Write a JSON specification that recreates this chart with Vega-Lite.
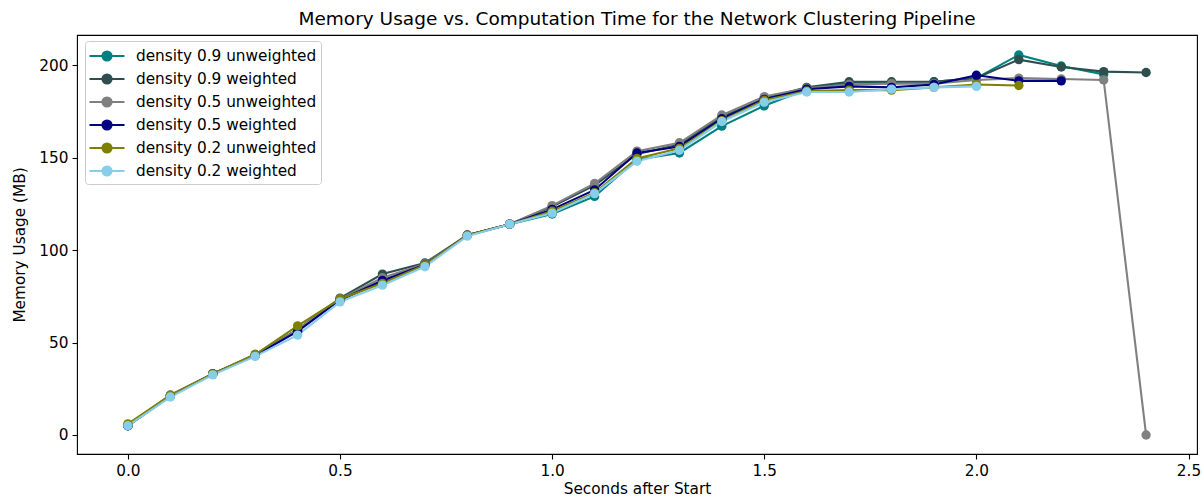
{
  "$schema": "https://vega.github.io/schema/vega-lite/v6.json",
  "width": 1120,
  "height": 419,
  "autosize": {"type": "none"},
  "padding": {"left": 77, "top": 35, "right": 7, "bottom": 47},
  "background": "white",
  "title": {
    "text": "Memory Usage vs. Computation Time for the Network Clustering Pipeline",
    "font": "DejaVu Sans",
    "fontSize": 18.5,
    "fontWeight": "normal",
    "color": "black",
    "anchor": "middle",
    "offset": 7
  },
  "config": {
    "view": {"stroke": "black", "strokeWidth": 1.1},
    "axis": {
      "grid": false,
      "domain": false,
      "ticks": true,
      "tickColor": "black",
      "tickSize": 5,
      "tickWidth": 1.1,
      "labelFont": "DejaVu Sans",
      "labelFontSize": 15.3,
      "labelColor": "black",
      "labelPadding": 4,
      "titleFont": "DejaVu Sans",
      "titleFontSize": 15.3,
      "titleFontWeight": "normal",
      "titleColor": "black"
    }
  },
  "data": {
    "values": [
      {"series": "density 0.9 unweighted", "t": 0.0, "mb": 5},
      {"series": "density 0.9 unweighted", "t": 0.1, "mb": 21},
      {"series": "density 0.9 unweighted", "t": 0.2, "mb": 33},
      {"series": "density 0.9 unweighted", "t": 0.3, "mb": 43},
      {"series": "density 0.9 unweighted", "t": 0.4, "mb": 57},
      {"series": "density 0.9 unweighted", "t": 0.5, "mb": 73},
      {"series": "density 0.9 unweighted", "t": 0.6, "mb": 83},
      {"series": "density 0.9 unweighted", "t": 0.7, "mb": 92},
      {"series": "density 0.9 unweighted", "t": 0.8, "mb": 108},
      {"series": "density 0.9 unweighted", "t": 0.9, "mb": 114},
      {"series": "density 0.9 unweighted", "t": 1.0, "mb": 119.5},
      {"series": "density 0.9 unweighted", "t": 1.1, "mb": 129},
      {"series": "density 0.9 unweighted", "t": 1.2, "mb": 149},
      {"series": "density 0.9 unweighted", "t": 1.3, "mb": 152.5},
      {"series": "density 0.9 unweighted", "t": 1.4, "mb": 167},
      {"series": "density 0.9 unweighted", "t": 1.5, "mb": 178},
      {"series": "density 0.9 unweighted", "t": 1.6, "mb": 187},
      {"series": "density 0.9 unweighted", "t": 1.7, "mb": 190.5},
      {"series": "density 0.9 unweighted", "t": 1.8, "mb": 190.5},
      {"series": "density 0.9 unweighted", "t": 1.9, "mb": 191},
      {"series": "density 0.9 unweighted", "t": 2.0, "mb": 193},
      {"series": "density 0.9 unweighted", "t": 2.1, "mb": 205.5},
      {"series": "density 0.9 unweighted", "t": 2.2, "mb": 199.5},
      {"series": "density 0.9 unweighted", "t": 2.3, "mb": 195},

      {"series": "density 0.9 weighted", "t": 0.0, "mb": 5},
      {"series": "density 0.9 weighted", "t": 0.1, "mb": 21.5},
      {"series": "density 0.9 weighted", "t": 0.2, "mb": 33},
      {"series": "density 0.9 weighted", "t": 0.3, "mb": 43.5},
      {"series": "density 0.9 weighted", "t": 0.4, "mb": 57},
      {"series": "density 0.9 weighted", "t": 0.5, "mb": 74},
      {"series": "density 0.9 weighted", "t": 0.6, "mb": 87},
      {"series": "density 0.9 weighted", "t": 0.7, "mb": 93},
      {"series": "density 0.9 weighted", "t": 0.8, "mb": 108},
      {"series": "density 0.9 weighted", "t": 0.9, "mb": 114},
      {"series": "density 0.9 weighted", "t": 1.0, "mb": 123.5},
      {"series": "density 0.9 weighted", "t": 1.1, "mb": 135},
      {"series": "density 0.9 weighted", "t": 1.2, "mb": 152},
      {"series": "density 0.9 weighted", "t": 1.3, "mb": 157},
      {"series": "density 0.9 weighted", "t": 1.4, "mb": 172},
      {"series": "density 0.9 weighted", "t": 1.5, "mb": 182},
      {"series": "density 0.9 weighted", "t": 1.6, "mb": 188},
      {"series": "density 0.9 weighted", "t": 1.7, "mb": 191},
      {"series": "density 0.9 weighted", "t": 1.8, "mb": 191},
      {"series": "density 0.9 weighted", "t": 1.9, "mb": 191},
      {"series": "density 0.9 weighted", "t": 2.0, "mb": 193},
      {"series": "density 0.9 weighted", "t": 2.1, "mb": 203},
      {"series": "density 0.9 weighted", "t": 2.2, "mb": 199},
      {"series": "density 0.9 weighted", "t": 2.3, "mb": 196.5},
      {"series": "density 0.9 weighted", "t": 2.4, "mb": 196},

      {"series": "density 0.5 unweighted", "t": 0.0, "mb": 5},
      {"series": "density 0.5 unweighted", "t": 0.1, "mb": 21.5},
      {"series": "density 0.5 unweighted", "t": 0.2, "mb": 33},
      {"series": "density 0.5 unweighted", "t": 0.3, "mb": 43},
      {"series": "density 0.5 unweighted", "t": 0.4, "mb": 57},
      {"series": "density 0.5 unweighted", "t": 0.5, "mb": 73.5},
      {"series": "density 0.5 unweighted", "t": 0.6, "mb": 85},
      {"series": "density 0.5 unweighted", "t": 0.7, "mb": 92.5},
      {"series": "density 0.5 unweighted", "t": 0.8, "mb": 108},
      {"series": "density 0.5 unweighted", "t": 0.9, "mb": 114},
      {"series": "density 0.5 unweighted", "t": 1.0, "mb": 124},
      {"series": "density 0.5 unweighted", "t": 1.1, "mb": 136},
      {"series": "density 0.5 unweighted", "t": 1.2, "mb": 153.5},
      {"series": "density 0.5 unweighted", "t": 1.3, "mb": 158},
      {"series": "density 0.5 unweighted", "t": 1.4, "mb": 173},
      {"series": "density 0.5 unweighted", "t": 1.5, "mb": 183},
      {"series": "density 0.5 unweighted", "t": 1.6, "mb": 187.5},
      {"series": "density 0.5 unweighted", "t": 1.7, "mb": 189.5},
      {"series": "density 0.5 unweighted", "t": 1.8, "mb": 190},
      {"series": "density 0.5 unweighted", "t": 1.9, "mb": 190},
      {"series": "density 0.5 unweighted", "t": 2.0, "mb": 192},
      {"series": "density 0.5 unweighted", "t": 2.1, "mb": 193},
      {"series": "density 0.5 unweighted", "t": 2.2, "mb": 192.5},
      {"series": "density 0.5 unweighted", "t": 2.3, "mb": 192},
      {"series": "density 0.5 unweighted", "t": 2.4, "mb": 0},

      {"series": "density 0.5 weighted", "t": 0.0, "mb": 5},
      {"series": "density 0.5 weighted", "t": 0.1, "mb": 21},
      {"series": "density 0.5 weighted", "t": 0.2, "mb": 33},
      {"series": "density 0.5 weighted", "t": 0.3, "mb": 43},
      {"series": "density 0.5 weighted", "t": 0.4, "mb": 56},
      {"series": "density 0.5 weighted", "t": 0.5, "mb": 73},
      {"series": "density 0.5 weighted", "t": 0.6, "mb": 83.5},
      {"series": "density 0.5 weighted", "t": 0.7, "mb": 92},
      {"series": "density 0.5 weighted", "t": 0.8, "mb": 108},
      {"series": "density 0.5 weighted", "t": 0.9, "mb": 114},
      {"series": "density 0.5 weighted", "t": 1.0, "mb": 122},
      {"series": "density 0.5 weighted", "t": 1.1, "mb": 132.5},
      {"series": "density 0.5 weighted", "t": 1.2, "mb": 152.5},
      {"series": "density 0.5 weighted", "t": 1.3, "mb": 156},
      {"series": "density 0.5 weighted", "t": 1.4, "mb": 171},
      {"series": "density 0.5 weighted", "t": 1.5, "mb": 181.5},
      {"series": "density 0.5 weighted", "t": 1.6, "mb": 187},
      {"series": "density 0.5 weighted", "t": 1.7, "mb": 188.5},
      {"series": "density 0.5 weighted", "t": 1.8, "mb": 188},
      {"series": "density 0.5 weighted", "t": 1.9, "mb": 189.5},
      {"series": "density 0.5 weighted", "t": 2.0, "mb": 194.5},
      {"series": "density 0.5 weighted", "t": 2.1, "mb": 191.5},
      {"series": "density 0.5 weighted", "t": 2.2, "mb": 191.5},

      {"series": "density 0.2 unweighted", "t": 0.0, "mb": 6},
      {"series": "density 0.2 unweighted", "t": 0.1, "mb": 21.5},
      {"series": "density 0.2 unweighted", "t": 0.2, "mb": 33},
      {"series": "density 0.2 unweighted", "t": 0.3, "mb": 43.5},
      {"series": "density 0.2 unweighted", "t": 0.4, "mb": 59},
      {"series": "density 0.2 unweighted", "t": 0.5, "mb": 73.5},
      {"series": "density 0.2 unweighted", "t": 0.6, "mb": 82},
      {"series": "density 0.2 unweighted", "t": 0.7, "mb": 92},
      {"series": "density 0.2 unweighted", "t": 0.8, "mb": 108},
      {"series": "density 0.2 unweighted", "t": 0.9, "mb": 114},
      {"series": "density 0.2 unweighted", "t": 1.0, "mb": 121},
      {"series": "density 0.2 unweighted", "t": 1.1, "mb": 131},
      {"series": "density 0.2 unweighted", "t": 1.2, "mb": 149.5},
      {"series": "density 0.2 unweighted", "t": 1.3, "mb": 155},
      {"series": "density 0.2 unweighted", "t": 1.4, "mb": 170},
      {"series": "density 0.2 unweighted", "t": 1.5, "mb": 181},
      {"series": "density 0.2 unweighted", "t": 1.6, "mb": 186},
      {"series": "density 0.2 unweighted", "t": 1.7, "mb": 186.5},
      {"series": "density 0.2 unweighted", "t": 1.8, "mb": 186.5},
      {"series": "density 0.2 unweighted", "t": 1.9, "mb": 188},
      {"series": "density 0.2 unweighted", "t": 2.0, "mb": 189.5},
      {"series": "density 0.2 unweighted", "t": 2.1, "mb": 189},

      {"series": "density 0.2 weighted", "t": 0.0, "mb": 5},
      {"series": "density 0.2 weighted", "t": 0.1, "mb": 20.5},
      {"series": "density 0.2 weighted", "t": 0.2, "mb": 32.5},
      {"series": "density 0.2 weighted", "t": 0.3, "mb": 42.5},
      {"series": "density 0.2 weighted", "t": 0.4, "mb": 54},
      {"series": "density 0.2 weighted", "t": 0.5, "mb": 72},
      {"series": "density 0.2 weighted", "t": 0.6, "mb": 81},
      {"series": "density 0.2 weighted", "t": 0.7, "mb": 91},
      {"series": "density 0.2 weighted", "t": 0.8, "mb": 107.5},
      {"series": "density 0.2 weighted", "t": 0.9, "mb": 114},
      {"series": "density 0.2 weighted", "t": 1.0, "mb": 120},
      {"series": "density 0.2 weighted", "t": 1.1, "mb": 130.5},
      {"series": "density 0.2 weighted", "t": 1.2, "mb": 148},
      {"series": "density 0.2 weighted", "t": 1.3, "mb": 154},
      {"series": "density 0.2 weighted", "t": 1.4, "mb": 169.5},
      {"series": "density 0.2 weighted", "t": 1.5, "mb": 180},
      {"series": "density 0.2 weighted", "t": 1.6, "mb": 185.5},
      {"series": "density 0.2 weighted", "t": 1.7, "mb": 185.5},
      {"series": "density 0.2 weighted", "t": 1.8, "mb": 187},
      {"series": "density 0.2 weighted", "t": 1.9, "mb": 188},
      {"series": "density 0.2 weighted", "t": 2.0, "mb": 188.5}
    ]
  },
  "encoding": {
    "x": {
      "field": "t",
      "type": "quantitative",
      "scale": {"domain": [-0.12, 2.52], "nice": false, "zero": false},
      "axis": {"values": [0, 0.5, 1, 1.5, 2, 2.5], "format": ".1f", "title": "Seconds after Start", "titlePadding": 3}
    },
    "y": {
      "field": "mb",
      "type": "quantitative",
      "scale": {"domain": [-10.3, 216.3], "nice": false, "zero": false},
      "axis": {"values": [0, 50, 100, 150, 200], "format": "d", "title": "Memory Usage (MB)", "titlePadding": 11}
    },
    "color": {
      "field": "series",
      "type": "nominal",
      "sort": null,
      "scale": {
        "domain": ["density 0.9 unweighted", "density 0.9 weighted", "density 0.5 unweighted", "density 0.5 weighted", "density 0.2 unweighted", "density 0.2 weighted"],
        "range": ["#008080", "#2f4f4f", "#808080", "#000080", "#808000", "#87ceeb"]
      },
      "legend": {
        "title": null,
        "orient": "none",
        "legendX": 8,
        "legendY": 6,
        "padding": 4,
        "fillColor": "white",
        "strokeColor": "#cccccc",
        "cornerRadius": 3,
        "labelFont": "DejaVu Sans",
        "labelFontSize": 15.3,
        "labelColor": "black",
        "labelLimit": 400,
        "labelOffset": 18,
        "rowPadding": 3,
        "symbolOffset": 7,
        "symbolType": "M-1.75,0L1.75,0M0.46,0A0.46,0.46,0,1,1,-0.46,0A0.46,0.46,0,1,1,0.46,0Z",
        "symbolSize": 400,
        "symbolStrokeWidth": 2,
        "symbolOpacity": 1,
        "encode": {
          "symbols": {
            "update": {
              "fill": {"scale": "color", "field": "value"},
              "stroke": {"scale": "color", "field": "value"},
              "strokeWidth": {"value": 2},
              "opacity": {"value": 1}
            }
          }
        }
      }
    }
  },
  "layer": [
    {"mark": {"type": "line", "strokeWidth": 2.1}},
    {"mark": {"type": "point", "filled": true, "size": 88, "opacity": 1}}
  ]
}
